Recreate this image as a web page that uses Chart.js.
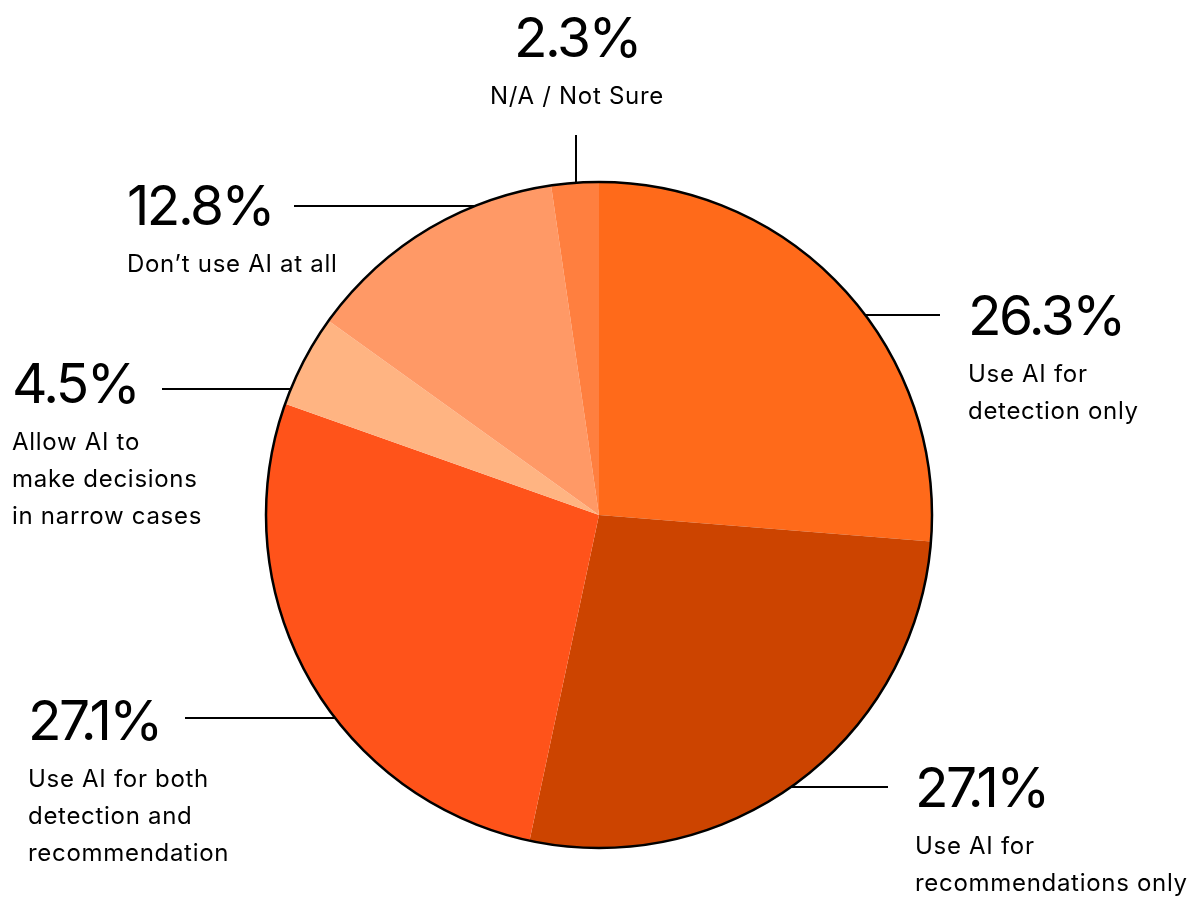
<!DOCTYPE html>
<html>
<head>
<meta charset="utf-8">
<script src="https://cdn.jsdelivr.net/npm/chart.js@4.4.1/dist/chart.umd.min.js"></script>
<style>
  html, body { margin: 0; padding: 0; background: #fff; }
  #wrap { width: 1198px; height: 897px; position: relative; }
</style>
</head>
<body>
<div id="wrap"><canvas id="aiPie"></canvas></div>
<script>
// Survey answers, clockwise from 12 o'clock
const categories = [
    ['Use AI for', 'detection only'],
    ['Use AI for', 'recommendations only'],
    ['Use AI for both', 'detection and', 'recommendation'],
    ['Allow AI to', 'make decisions', 'in narrow cases'],
    ['Don\u2019t use AI at all'],
    ['N/A / Not Sure']
];
const shares = [26.3, 27.1, 27.1, 4.5, 12.8, 2.3];
const sliceColors = ['#FF6A1A', '#CC4400', '#FF531A', '#FFB482', '#FF9966', '#FF7F3F'];

// where each callout sits (text anchor + leader line)
const callouts = [
    { x: 968, y: 335, align: 'left', lineY: 315, lineEnd: 940 },
    { x: 915, y: 807, align: 'left', lineY: 787, lineEnd: 888 },
    { x: 28, y: 740, align: 'left', lineY: 718, lineEnd: 185 },
    { x: 12, y: 403, align: 'left', lineY: 389, lineEnd: 162 },
    { x: 127, y: 225, align: 'left', lineY: 206, lineEnd: 294 },
    { x: 577, y: 57, align: 'center', lineX: 576, lineEnd: 135 }
];

const calloutPlugin = {
    id: 'callouts',
    afterDatasetsDraw(chart) {
        const ctx = chart.ctx;
        const arc = chart.getDatasetMeta(0).data[0];
        const cx = arc.x, cy = arc.y, r = arc.outerRadius;

        ctx.save();
        // outer rim only, no borders between slices
        ctx.beginPath();
        ctx.arc(cx, cy, r, 0, Math.PI * 2);
        ctx.lineWidth = 2.5;
        ctx.strokeStyle = '#000';
        ctx.stroke();

        ctx.lineWidth = 2;
        callouts.forEach((c, i) => {
            ctx.beginPath();
            if (c.lineX !== undefined) {
                const dx = c.lineX - cx;
                const edgeY = cy - Math.sqrt(r * r - dx * dx);
                ctx.moveTo(c.lineX, c.lineEnd);
                ctx.lineTo(c.lineX, edgeY);
            } else {
                const dy = c.lineY - cy;
                const half = Math.sqrt(r * r - dy * dy);
                const edgeX = c.lineEnd > cx ? cx + half : cx - half;
                ctx.moveTo(c.lineEnd, c.lineY);
                ctx.lineTo(edgeX, c.lineY);
            }
            ctx.stroke();

            ctx.fillStyle = '#000';
            ctx.textAlign = c.align;
            ctx.textBaseline = 'alphabetic';
            ctx.font = '400 55px Inter';
            ctx.letterSpacing = '-2.5px';
            ctx.fillText(shares[i].toFixed(1) + '%', c.x, c.y);
            ctx.font = '400 24px Inter';
            ctx.letterSpacing = '0.7px';
            categories[i].forEach((line, j) => {
                ctx.fillText(line, c.x, c.y + 47 + j * 37);
            });
        });
        ctx.restore();
    }
};

new Chart(document.getElementById('aiPie'), {
    type: 'pie',
    data: {
        labels: categories.map(c => c.join(' ')),
        datasets: [{
            data: shares,
            backgroundColor: sliceColors,
            borderWidth: 0,
            hoverOffset: 0
        }]
    },
    options: {
        responsive: true,
        maintainAspectRatio: false,
        animation: false,
        rotation: 0,
        layout: { padding: { top: 182, bottom: 49, left: 266, right: 266 } },
        plugins: {
            legend: { display: false },
            tooltip: { enabled: false }
        }
    },
    plugins: [calloutPlugin]
});
</script>
</body>
</html>
